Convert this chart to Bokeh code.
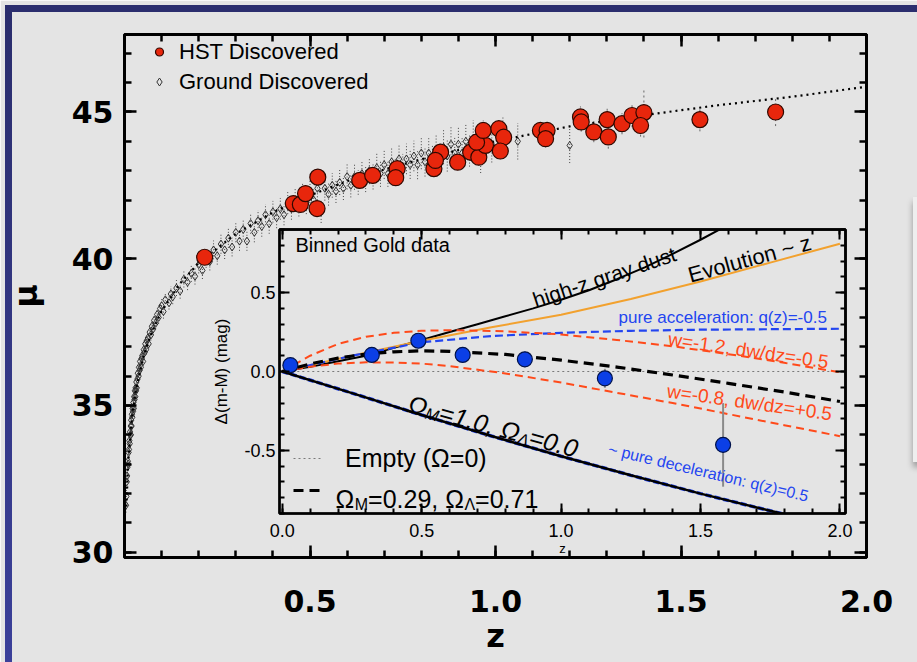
import math

from bokeh.core.properties import value
from bokeh.embed import file_html
from bokeh.layouts import column
from bokeh.models import (Div, FixedTicker, Legend, LegendItem, LinearAxis,
                          PrintfTickFormatter, Range1d)
from bokeh.plotting import figure
from bokeh.resources import INLINE

# ---------------- Hubble diagram: distance modulus vs redshift ----------------
hst_z = [0.216, 0.455, 0.474, 0.488, 0.521, 0.519, 0.634, 0.669, 0.735, 0.731,
         0.834, 0.852, 0.838, 0.898, 0.933, 0.955, 0.973, 0.949, 0.967, 1.009,
         1.022, 1.013, 1.121, 1.139, 1.135, 1.229, 1.231, 1.265, 1.301, 1.304,
         1.341, 1.368, 1.400, 1.391, 1.551, 1.755]
hst_mu = [40.05, 41.88, 41.85, 42.22, 42.78, 41.71, 42.67, 42.84, 43.07, 42.76,
          43.07, 43.63, 43.35, 43.29, 43.63, 43.46, 43.86, 43.97, 44.37, 44.43,
          44.14, 43.67, 44.37, 44.37, 44.09, 44.83, 44.66, 44.32, 44.74, 44.15,
          44.60, 44.88, 44.98, 44.54, 44.74, 45.00]
hst_err = [0.20, 0.25, 0.22, 0.24, 0.26, 0.25, 0.22, 0.24, 0.26, 0.23,
           0.28, 0.30, 0.27, 0.26, 0.30, 0.28, 0.32, 0.30, 0.35, 0.33,
           0.30, 0.28, 0.34, 0.32, 0.30, 0.36, 0.33, 0.35, 0.38, 0.40,
           0.36, 0.40, 0.85, 0.38, 0.40, 0.48]

ground_z = [0.004, 0.005, 0.006, 0.007, 0.008, 0.009, 0.010, 0.011, 0.012, 0.013,
            0.014, 0.015, 0.016, 0.017, 0.017, 0.018, 0.019, 0.020, 0.021, 0.022,
            0.023, 0.024, 0.025, 0.026, 0.027, 0.028, 0.029, 0.030, 0.031, 0.032,
            0.033, 0.035, 0.036, 0.038, 0.039, 0.041, 0.042, 0.044, 0.046, 0.048,
            0.050, 0.052, 0.054, 0.056, 0.058, 0.060, 0.063, 0.065, 0.068, 0.071,
            0.074, 0.077, 0.080, 0.084, 0.088, 0.092, 0.096,
            0.100, 0.105, 0.110, 0.120, 0.125, 0.130, 0.140, 0.150, 0.160, 0.170,
            0.180, 0.190, 0.200, 0.210, 0.220, 0.230, 0.240, 0.250, 0.260, 0.270,
            0.280, 0.290, 0.300, 0.310, 0.320, 0.330, 0.340, 0.350, 0.360, 0.370,
            0.380, 0.390, 0.400, 0.410, 0.420, 0.430, 0.440,
            0.450, 0.460, 0.470, 0.480, 0.490, 0.500, 0.510, 0.520, 0.530, 0.540,
            0.550, 0.560, 0.570, 0.580, 0.590, 0.600, 0.610, 0.620, 0.630, 0.640,
            0.650, 0.660, 0.670, 0.680, 0.690, 0.700, 0.710, 0.720, 0.730, 0.740,
            0.750, 0.760, 0.770, 0.780, 0.790, 0.800, 0.810, 0.820, 0.830, 0.840,
            0.850, 0.860, 0.870, 0.880, 0.890, 0.900, 0.910, 0.920, 0.930, 0.940,
            0.950, 0.960, 0.970, 0.990, 1.020, 1.060, 1.200]
ground_mu = [31.6, 31.9, 32.4, 32.6, 32.9, 33.1, 33.0, 33.4, 33.5, 33.8,
             33.7, 34.1, 34.0, 34.3, 34.0, 34.5, 34.3, 34.7, 34.6, 34.9,
             34.8, 35.1, 34.9, 35.3, 35.2, 35.5, 35.3, 35.6, 35.5, 35.8,
             35.6, 35.9, 36.1, 36.0, 36.3, 36.2, 36.5, 36.3, 36.6, 36.7,
             36.5, 36.9, 36.8, 37.1, 36.9, 37.2, 37.3, 37.1, 37.5, 37.4,
             37.7, 37.6, 37.9, 37.8, 38.1, 38.0, 38.3,
             38.4, 38.2, 38.6, 38.5, 38.8, 38.7, 39.0, 38.9, 39.3, 39.2,
             39.5, 39.4, 39.8, 39.6, 40.0, 39.9, 40.3, 40.1, 40.5, 40.3,
             40.7, 40.4, 40.9, 40.6, 41.0, 40.6, 41.2, 40.9, 41.3, 41.1,
             41.5, 41.2, 41.6, 41.4, 41.7, 41.5, 41.9,
             41.7, 42.0, 41.8, 42.2, 41.9, 42.3, 42.0, 42.4, 41.6, 42.4,
             42.2, 42.5, 42.3, 42.6, 42.4, 42.8, 42.5, 42.8, 42.6, 42.9,
             42.7, 43.0, 42.8, 43.1, 42.9, 43.2, 42.9, 43.3, 43.0, 43.4,
             43.1, 43.4, 43.2, 43.5, 43.2, 43.6, 43.3, 43.6, 43.4, 43.7,
             43.4, 43.8, 43.5, 43.9, 43.6, 43.9, 43.6, 44.0, 43.7, 44.1,
             43.8, 43.5, 44.0, 43.9, 44.2, 44.0, 43.86]
ground_err = [0.25, 0.22, 0.24, 0.20, 0.22, 0.18, 0.20, 0.18, 0.17, 0.18,
              0.16, 0.17, 0.15, 0.16, 0.15, 0.15, 0.16, 0.14, 0.15, 0.14,
              0.15, 0.14, 0.15, 0.14, 0.14, 0.15, 0.14, 0.15, 0.14, 0.15,
              0.14, 0.15, 0.14, 0.15, 0.16, 0.15, 0.16, 0.15, 0.16, 0.17,
              0.16, 0.17, 0.16, 0.17, 0.18, 0.17, 0.18, 0.17, 0.18, 0.19,
              0.18, 0.19, 0.20, 0.19, 0.20, 0.21, 0.20,
              0.22, 0.24, 0.25, 0.23, 0.26, 0.25, 0.27, 0.26, 0.28, 0.27,
              0.29, 0.28, 0.30, 0.29, 0.31, 0.30, 0.32, 0.30, 0.33, 0.31,
              0.33, 0.32, 0.34, 0.33, 0.35, 0.33, 0.35, 0.34, 0.36, 0.35,
              0.36, 0.35, 0.37, 0.36, 0.37, 0.36, 0.38,
              0.37, 0.38, 0.36, 0.40, 0.38, 0.40, 0.37, 0.41, 0.38, 0.42,
              0.39, 0.42, 0.40, 0.43, 0.40, 0.44, 0.41, 0.45, 0.42, 0.46,
              0.43, 0.46, 0.44, 0.48, 0.45, 0.48, 0.45, 0.50, 0.46, 0.50,
              0.47, 0.52, 0.48, 0.52, 0.49, 0.55, 0.50, 0.55, 0.51, 0.56,
              0.52, 0.58, 0.53, 0.58, 0.54, 0.60, 0.55, 0.60, 0.56, 0.62,
              0.57, 0.58, 0.60, 0.62, 0.65, 0.62, 0.60]

model_z = [0.005, 0.01, 0.02, 0.03, 0.05, 0.07, 0.1, 0.15, 0.2, 0.3, 0.4,
           0.5, 0.6, 0.7, 0.8, 0.9, 1.0, 1.2, 1.4, 1.6, 1.8, 2.0]
model_mu = [31.56, 33.07, 34.59, 35.48, 36.62, 37.38, 38.21, 39.16, 39.86, 40.85, 41.58,
            42.16, 42.64, 43.04, 43.39, 43.70, 44.00, 44.51, 44.89, 45.23, 45.52, 45.86]

main_x_ticks = [0.5, 1.0, 1.5, 2.0]
main_y_ticks = [30, 35, 40, 45]

# ---------------- inset: binned residuals relative to an empty universe ----------------
bin_z = [0.029, 0.321, 0.488, 0.647, 0.870, 1.157, 1.581]
bin_d = [0.040, 0.105, 0.195, 0.105, 0.077, -0.043, -0.465]
bin_err = [0.02, 0.03, 0.03, 0.04, 0.05, 0.06, 0.265]

empty_z = [0.0, 2.0]
empty_d = [0.0, 0.0]

lcdm_z = [0.0, 0.1, 0.2, 0.3, 0.4, 0.5, 0.6, 0.8, 1.0, 1.2, 1.4, 1.6, 1.8, 2.0]
lcdm_d = [0.0, 0.048, 0.085, 0.110, 0.125, 0.131, 0.128, 0.108, 0.072, 0.028,
          -0.022, -0.075, -0.130, -0.190]

eds_z = [0.0, 0.25, 0.5, 0.75, 1.0, 1.25, 1.5, 1.75, 2.0]
eds_d = [0.0, -0.137, -0.276, -0.409, -0.537, -0.658, -0.774, -0.883, -0.990]

decel_z = [0.0, 0.25, 0.5, 0.75, 1.0, 1.25, 1.5, 1.75, 2.0]
decel_d = [0.0, -0.137, -0.276, -0.409, -0.537, -0.658, -0.774, -0.883, -0.990]

accel_z = [0.0, 0.25, 0.5, 0.75, 1.0, 1.25, 1.5, 1.75, 2.0]
accel_d = [0.0, 0.100, 0.185, 0.225, 0.245, 0.258, 0.265, 0.268, 0.271]

wneg_z = [0.0, 0.1, 0.2, 0.3, 0.4, 0.5, 0.6, 0.8, 1.0, 1.2, 1.4, 1.6, 1.8, 2.0]
wneg_d = [0.0, 0.100, 0.175, 0.220, 0.245, 0.258, 0.262, 0.255, 0.235, 0.200,
          0.160, 0.110, 0.055, -0.005]

wpos_z = [0.0, 0.1, 0.2, 0.3, 0.4, 0.5, 0.6, 0.8, 1.0, 1.2, 1.4, 1.6, 1.8, 2.0]
wpos_d = [0.0, 0.030, 0.050, 0.058, 0.057, 0.050, 0.034, -0.012, -0.070, -0.135,
          -0.200, -0.270, -0.340, -0.410]

dust_z = [0.0, 0.1, 0.2, 0.3, 0.4, 0.5, 0.6, 0.7, 0.8, 0.9, 1.0, 1.1, 1.2, 1.3,
          1.4, 1.5, 1.6, 1.7]
dust_d = [0.0, 0.030, 0.065, 0.100, 0.150, 0.200, 0.250, 0.300, 0.350, 0.400,
          0.455, 0.515, 0.585, 0.660, 0.745, 0.835, 0.930, 1.020]

evol_z = [0.0, 0.25, 0.5, 0.75, 1.0, 1.25, 1.5, 1.75, 2.0]
evol_d = [0.0, 0.100, 0.195, 0.280, 0.360, 0.460, 0.570, 0.690, 0.810]

inset_x_ticks = [0.0, 0.5, 1.0, 1.5, 2.0]
inset_y_ticks = [-0.5, 0.0, 0.5]

# ---------------- styling ----------------
BG = "#e4e4e4"
RED = "#e8260c"
BLUE_PT = "#0b3fe6"
BLUE_LN = "#2345f0"
ORANGE_RED = "#ff4a1a"
ORANGE = "#f2a12e"
HELV = "Liberation Sans"

# advance widths (em) used to lay out labels with sub-scripted runs
EM = {"Ω": 0.768, "Λ": 0.667, "M": 0.833, "=": 0.584, ".": 0.278, ",": 0.278,
      " ": 0.278}


def run_width(txt, px):
    return px * sum(EM.get(ch, 0.556) for ch in txt)


def draw_runs(fig, x, y, runs, angle_deg=0.0, color="black", style="normal"):
    """Draw consecutive text runs (text, size_px, baseline_drop_px) along a rotated baseline."""
    a = math.radians(angle_deg)
    along = 0.0
    for txt, px, drop in runs:
        ox = along * math.cos(a) + drop * math.sin(a)
        oy = -along * math.sin(a) + drop * math.cos(a)
        fig.text(x=[x], y=[y], text=[txt], angle=a, x_offset=ox, y_offset=oy,
                 text_font=value(HELV), text_font_size=f"{px}px",
                 text_font_style=style, text_color=color,
                 text_align="left", text_baseline="alphabetic")
        along += run_width(txt, px)


def inward(ax, major, minor, lw):
    ax.major_tick_in = major
    ax.major_tick_out = 0
    ax.minor_tick_in = minor
    ax.minor_tick_out = 0
    ax.major_tick_line_width = lw
    ax.minor_tick_line_width = lw
    ax.axis_line_width = lw
    ax.major_tick_line_color = "black"
    ax.minor_tick_line_color = "black"
    ax.axis_line_color = "black"


def tick_only_axes(fig, side, major_pos, minor_pos, major_len, minor_len, lw):
    """Unlabelled inward ticks on the top/right frame edges (two zero-size axes)."""
    for pos, length in ((major_pos, major_len), (minor_pos, minor_len)):
        ax = LinearAxis(ticker=FixedTicker(ticks=[], minor_ticks=pos),
                        major_label_standoff=0, axis_label_standoff=0)
        inward(ax, 0, length, lw)
        fig.add_layout(ax, side)


# ---------------- main figure ----------------
p = figure(width=917, height=662, x_range=Range1d(0.0, 2.0), y_range=Range1d(29.82, 47.64),
           output_backend="svg", toolbar_location=None,
           min_border_left=124, min_border_right=51, min_border_top=34, min_border_bottom=105,
           background_fill_color=BG, border_fill_color=BG,
           outline_line_color="black", outline_line_width=3)
p.grid.visible = False

x_minor = [round(0.1 * i, 1) for i in range(1, 20)]
y_minor = list(range(30, 48))

xa = p.xaxis[0]
xa.ticker = FixedTicker(ticks=main_x_ticks, minor_ticks=x_minor)
xa.formatter = PrintfTickFormatter(format="%.1f")
xa.axis_label = "z"
ya = p.yaxis[0]
ya.ticker = FixedTicker(ticks=main_y_ticks, minor_ticks=y_minor)
ya.formatter = PrintfTickFormatter(format="%d")
ya.axis_label = "μ"
for ax in (xa, ya):
    inward(ax, 12, 7, 2.5)
    ax.major_label_text_font = "DejaVu Sans"
    ax.major_label_text_font_style = "bold"
    ax.major_label_text_font_size = "30px"
    ax.major_label_text_color = "black"
    ax.axis_label_text_font = "DejaVu Sans"
    ax.axis_label_text_font_style = "bold"
    ax.axis_label_text_font_size = "32px"
    ax.axis_label_text_color = "black"
xa.major_label_standoff = 32
xa.axis_label_standoff = 2
ya.major_label_standoff = 11
ya.axis_label_standoff = 24

tick_only_axes(p, "above", main_x_ticks, x_minor, 12, 7, 2.5)
tick_only_axes(p, "right", main_y_ticks, y_minor, 12, 7, 2.5)

# ground-discovered SNe with error bars
p.segment(x0=ground_z, y0=[m - e for m, e in zip(ground_mu, ground_err)],
          x1=ground_z, y1=[m + e for m, e in zip(ground_mu, ground_err)],
          line_color="black", line_width=1, line_dash="1 2", line_alpha=0.7)
ground_r = p.scatter(ground_z, ground_mu, marker="diamond", size=8,
                     fill_color=None, line_color="#333333", line_width=1)

# model curve
p.line(model_z, model_mu, line_color="black", line_width=2.2, line_dash="2 4")

# HST-discovered SNe
p.segment(x0=hst_z, y0=[m - e for m, e in zip(hst_mu, hst_err)],
          x1=hst_z, y1=[m + e for m, e in zip(hst_mu, hst_err)],
          line_color="#333333", line_width=1, line_dash="2 3", line_alpha=0.7)
hst_r = p.scatter(hst_z, hst_mu, marker="circle", size=16,
                  fill_color=RED, line_color="#300800", line_width=1.2)

leg = Legend(items=[LegendItem(label="HST Discovered", renderers=[hst_r]),
                    LegendItem(label="Ground Discovered", renderers=[ground_r])],
             location=(25, 462), orientation="vertical",
             glyph_width=20, glyph_height=27, label_height=27, spacing=3,
             padding=0, margin=0, label_standoff=10,
             background_fill_alpha=0, border_line_alpha=0,
             label_text_font=HELV, label_text_font_size="22px", label_text_color="black")
p.add_layout(leg)

# ---------------- inset figure ----------------
# borders equal to the main figure's so the column keeps both frames where intended
ins = figure(width=741, height=342, x_range=Range1d(-0.01, 2.02), y_range=Range1d(-0.9, 0.9),
             output_backend="svg", toolbar_location=None,
             min_border_left=124, min_border_right=51, min_border_top=6, min_border_bottom=52,
             background_fill_color=BG, border_fill_alpha=0.0,
             outline_line_color="black", outline_line_width=2.5,
             styles={"position": "absolute", "left": "155px", "top": "223px"})
ins.grid.visible = False

ix_minor = [round(0.1 * i, 1) for i in range(0, 21)]
iy_minor = [round(-0.9 + 0.1 * i, 1) for i in range(0, 19)]

ixa = ins.xaxis[0]
ixa.ticker = FixedTicker(ticks=inset_x_ticks, minor_ticks=ix_minor)
ixa.formatter = PrintfTickFormatter(format="%.1f")
ixa.axis_label = "z"
ixa.axis_label_text_font_size = "13px"
ixa.axis_label_standoff = 1
ixa.major_label_standoff = 10
iya = ins.yaxis[0]
iya.ticker = FixedTicker(ticks=inset_y_ticks, minor_ticks=iy_minor)
iya.formatter = PrintfTickFormatter(format="%.1f")
iya.axis_label = "Δ(m-M) (mag)"
iya.axis_label_text_font_size = "17px"
iya.axis_label_standoff = 10
iya.major_label_standoff = 4
for ax in (ixa, iya):
    inward(ax, 10, 5, 2)
    ax.major_label_text_font = HELV
    ax.major_label_text_font_size = "18px"
    ax.major_label_text_color = "black"
    ax.axis_label_text_font = HELV
    ax.axis_label_text_font_style = "normal"
    ax.axis_label_text_color = "black"

tick_only_axes(ins, "above", inset_x_ticks, ix_minor, 10, 5, 2)
tick_only_axes(ins, "right", inset_y_ticks, iy_minor, 10, 5, 2)

empty_r = ins.line(empty_z, empty_d, line_color="#7a7a7a", line_width=1.2, line_dash="2 3")
ins.line(decel_z, decel_d, line_color=BLUE_LN, line_width=3.5, line_dash="6 3")
ins.line(eds_z, eds_d, line_color="black", line_width=2.5)
ins.line(dust_z, dust_d, line_color="black", line_width=2)
ins.line(evol_z, evol_d, line_color=ORANGE, line_width=2)
ins.line(accel_z, accel_d, line_color=BLUE_LN, line_width=2.2, line_dash="8 4")
ins.line(wneg_z, wneg_d, line_color=ORANGE_RED, line_width=2, line_dash="8 5")
ins.line(wpos_z, wpos_d, line_color=ORANGE_RED, line_width=2, line_dash="8 5")
lcdm_r = ins.line(lcdm_z, lcdm_d, line_color="black", line_width=3.2, line_dash="10 6")

ins.segment(x0=bin_z, y0=[d - e for d, e in zip(bin_d, bin_err)],
            x1=bin_z, y1=[d + e for d, e in zip(bin_d, bin_err)],
            line_color="#8a8a8a", line_width=2)
ins.scatter(bin_z, bin_d, marker="circle", size=15,
            fill_color=BLUE_PT, line_color="#00124a", line_width=1.2)

ileg = Legend(items=[LegendItem(label="Empty (Ω=0)", renderers=[empty_r]),
                     LegendItem(label=" ", renderers=[lcdm_r])],
              location=(14, 8), orientation="vertical",
              glyph_width=30, glyph_height=30, label_height=30, spacing=2,
              padding=0, margin=0, label_standoff=22,
              background_fill_alpha=0, border_line_alpha=0,
              label_text_font=HELV, label_text_font_size="25px", label_text_color="black")
ins.add_layout(ileg)
draw_runs(ins, 0.191, -0.811,
          [("Ω", 25, 0), ("M", 16, 5), ("=0.29, ", 25, 0), ("Ω", 25, 0), ("Λ", 16, 5), ("=0.71", 25, 0)])

# curve annotations
ins.text(x=[0.047], y=[0.799], text=["Binned Gold data"], text_font=value(HELV),
         text_font_size="20px", text_color="black", text_align="left", text_baseline="middle")
ins.text(x=[0.901], y=[0.45], text=["high-z gray dust"], angle=math.radians(18.4),
         text_font=value(HELV), text_font_size="21px", text_color="black",
         text_align="left", text_baseline="alphabetic")
ins.text(x=[1.457], y=[0.608], text=["Evolution ~ z"], angle=math.radians(15.3),
         text_font=value(HELV), text_font_size="22px", text_color="black",
         text_align="left", text_baseline="alphabetic")
ins.text(x=[1.206], y=[0.344], text=["pure acceleration: q(z)=-0.5"],
         text_font=value(HELV), text_font_size="17px", text_color=BLUE_LN,
         text_align="left", text_baseline="middle")
ins.text(x=[1.672], y=[0.133], text=["w=-1.2, dw/dz=-0.5"], angle=math.radians(-8.3),
         text_font=value(HELV), text_font_size="19px", text_color=ORANGE_RED,
         text_align="center", text_baseline="middle")
ins.text(x=[1.676], y=[-0.196], text=["w=-0.8, dw/dz=+0.5"], angle=math.radians(-8.0),
         text_font=value(HELV), text_font_size="19px", text_color=ORANGE_RED,
         text_align="center", text_baseline="middle")
ins.text(x=[1.17], y=[-0.49], text=["~ pure deceleration: q(z)=0.5"], angle=math.radians(-13.4),
         text_font=value(HELV), text_font_size="16px", text_color=BLUE_LN,
         text_align="left", text_baseline="middle")
draw_runs(ins, 0.453, -0.2,
          [("Ω", 25, 0), ("M", 16, 5), ("=1.0, ", 25, 0), ("Ω", 25, 0), ("Λ", 16, 5), ("=0.0", 25, 0)],
          angle_deg=-15.2, style="italic")

# ---------------- page frame ----------------
left_strip = Div(width=7, height=662, styles={
    "position": "absolute", "left": "0px", "top": "0px",
    "background": "linear-gradient(180deg, #2a2d6c 0%, #3b409a 100%)"})
top_strip = Div(width=917, height=7, styles={
    "position": "absolute", "left": "0px", "top": "0px", "background": "#2b2e6e"})
side_box = Div(width=9, height=265, styles={
    "position": "absolute", "left": "908px", "top": "192px", "background": "#eeeeee",
    "box-shadow": "0px 5px 6px rgba(0,0,0,0.35)"})

page = column(p, ins, left_strip, top_strip, side_box)

open("out.html", "w").write(file_html(page, INLINE))
